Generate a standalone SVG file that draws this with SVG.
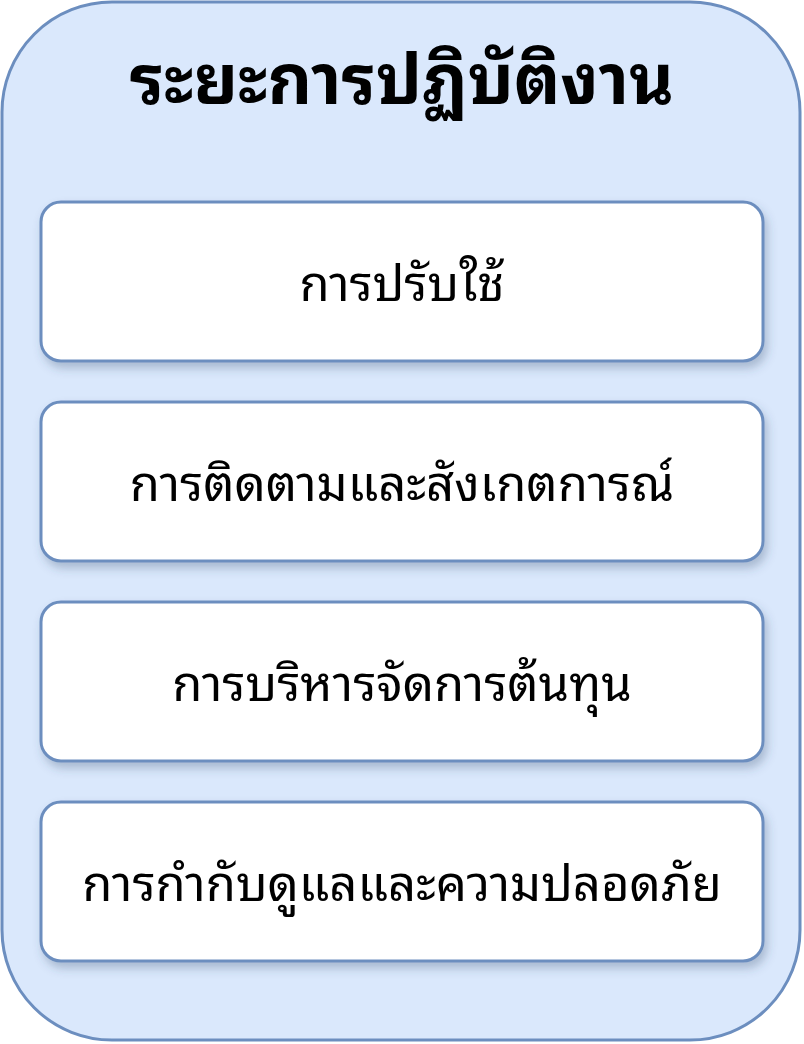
<svg xmlns="http://www.w3.org/2000/svg" width="804" height="1044" viewBox="0 0 804 1044">
<defs>
<filter id="sh" x="-10%" y="-10%" width="120%" height="130%">
<feDropShadow dx="3" dy="6" stdDeviation="5" flood-color="#3a4f70" flood-opacity="0.3"/>
</filter>
<style>
.outer{fill:#dae8fc;stroke:#6c8ebf;stroke-width:3}
.box{fill:#ffffff;stroke:#6c8ebf;stroke-width:3;filter:url(#sh)}
.t{font-family:"Noto Sans Thai Looped","Noto Sans Thai","Noto Sans","DejaVu Sans",sans-serif;fill:#000;text-anchor:middle;dominant-baseline:central}
.title{font-size:69px;font-weight:bold}
.lbl{font-size:49px}
</style>
</defs>
<g id="phase">
<rect class="outer" x="2" y="2" width="798" height="1038" rx="110" ry="110"/>
<text class="t title" x="402" y="73">ระยะการปฏิบัติงาน</text>
</g>
<g id="n1">
<rect class="box" x="41" y="202" width="722" height="159" rx="20"/>
<text class="t lbl" x="402" y="279">การปรับใช้</text>
</g>
<g id="n2">
<rect class="box" x="41" y="402" width="722" height="159" rx="20"/>
<text class="t lbl" x="402" y="479">การติดตามและสังเกตการณ์</text>
</g>
<g id="n3">
<rect class="box" x="41" y="602" width="722" height="159" rx="20"/>
<text class="t lbl" x="402" y="679">การบริหารจัดการต้นทุน</text>
</g>
<g id="n4">
<rect class="box" x="41" y="802" width="722" height="159" rx="20"/>
<text class="t lbl" x="402" y="879">การกำกับดูแลและความปลอดภัย</text>
</g>
<g id="connectors"/>
</svg>
